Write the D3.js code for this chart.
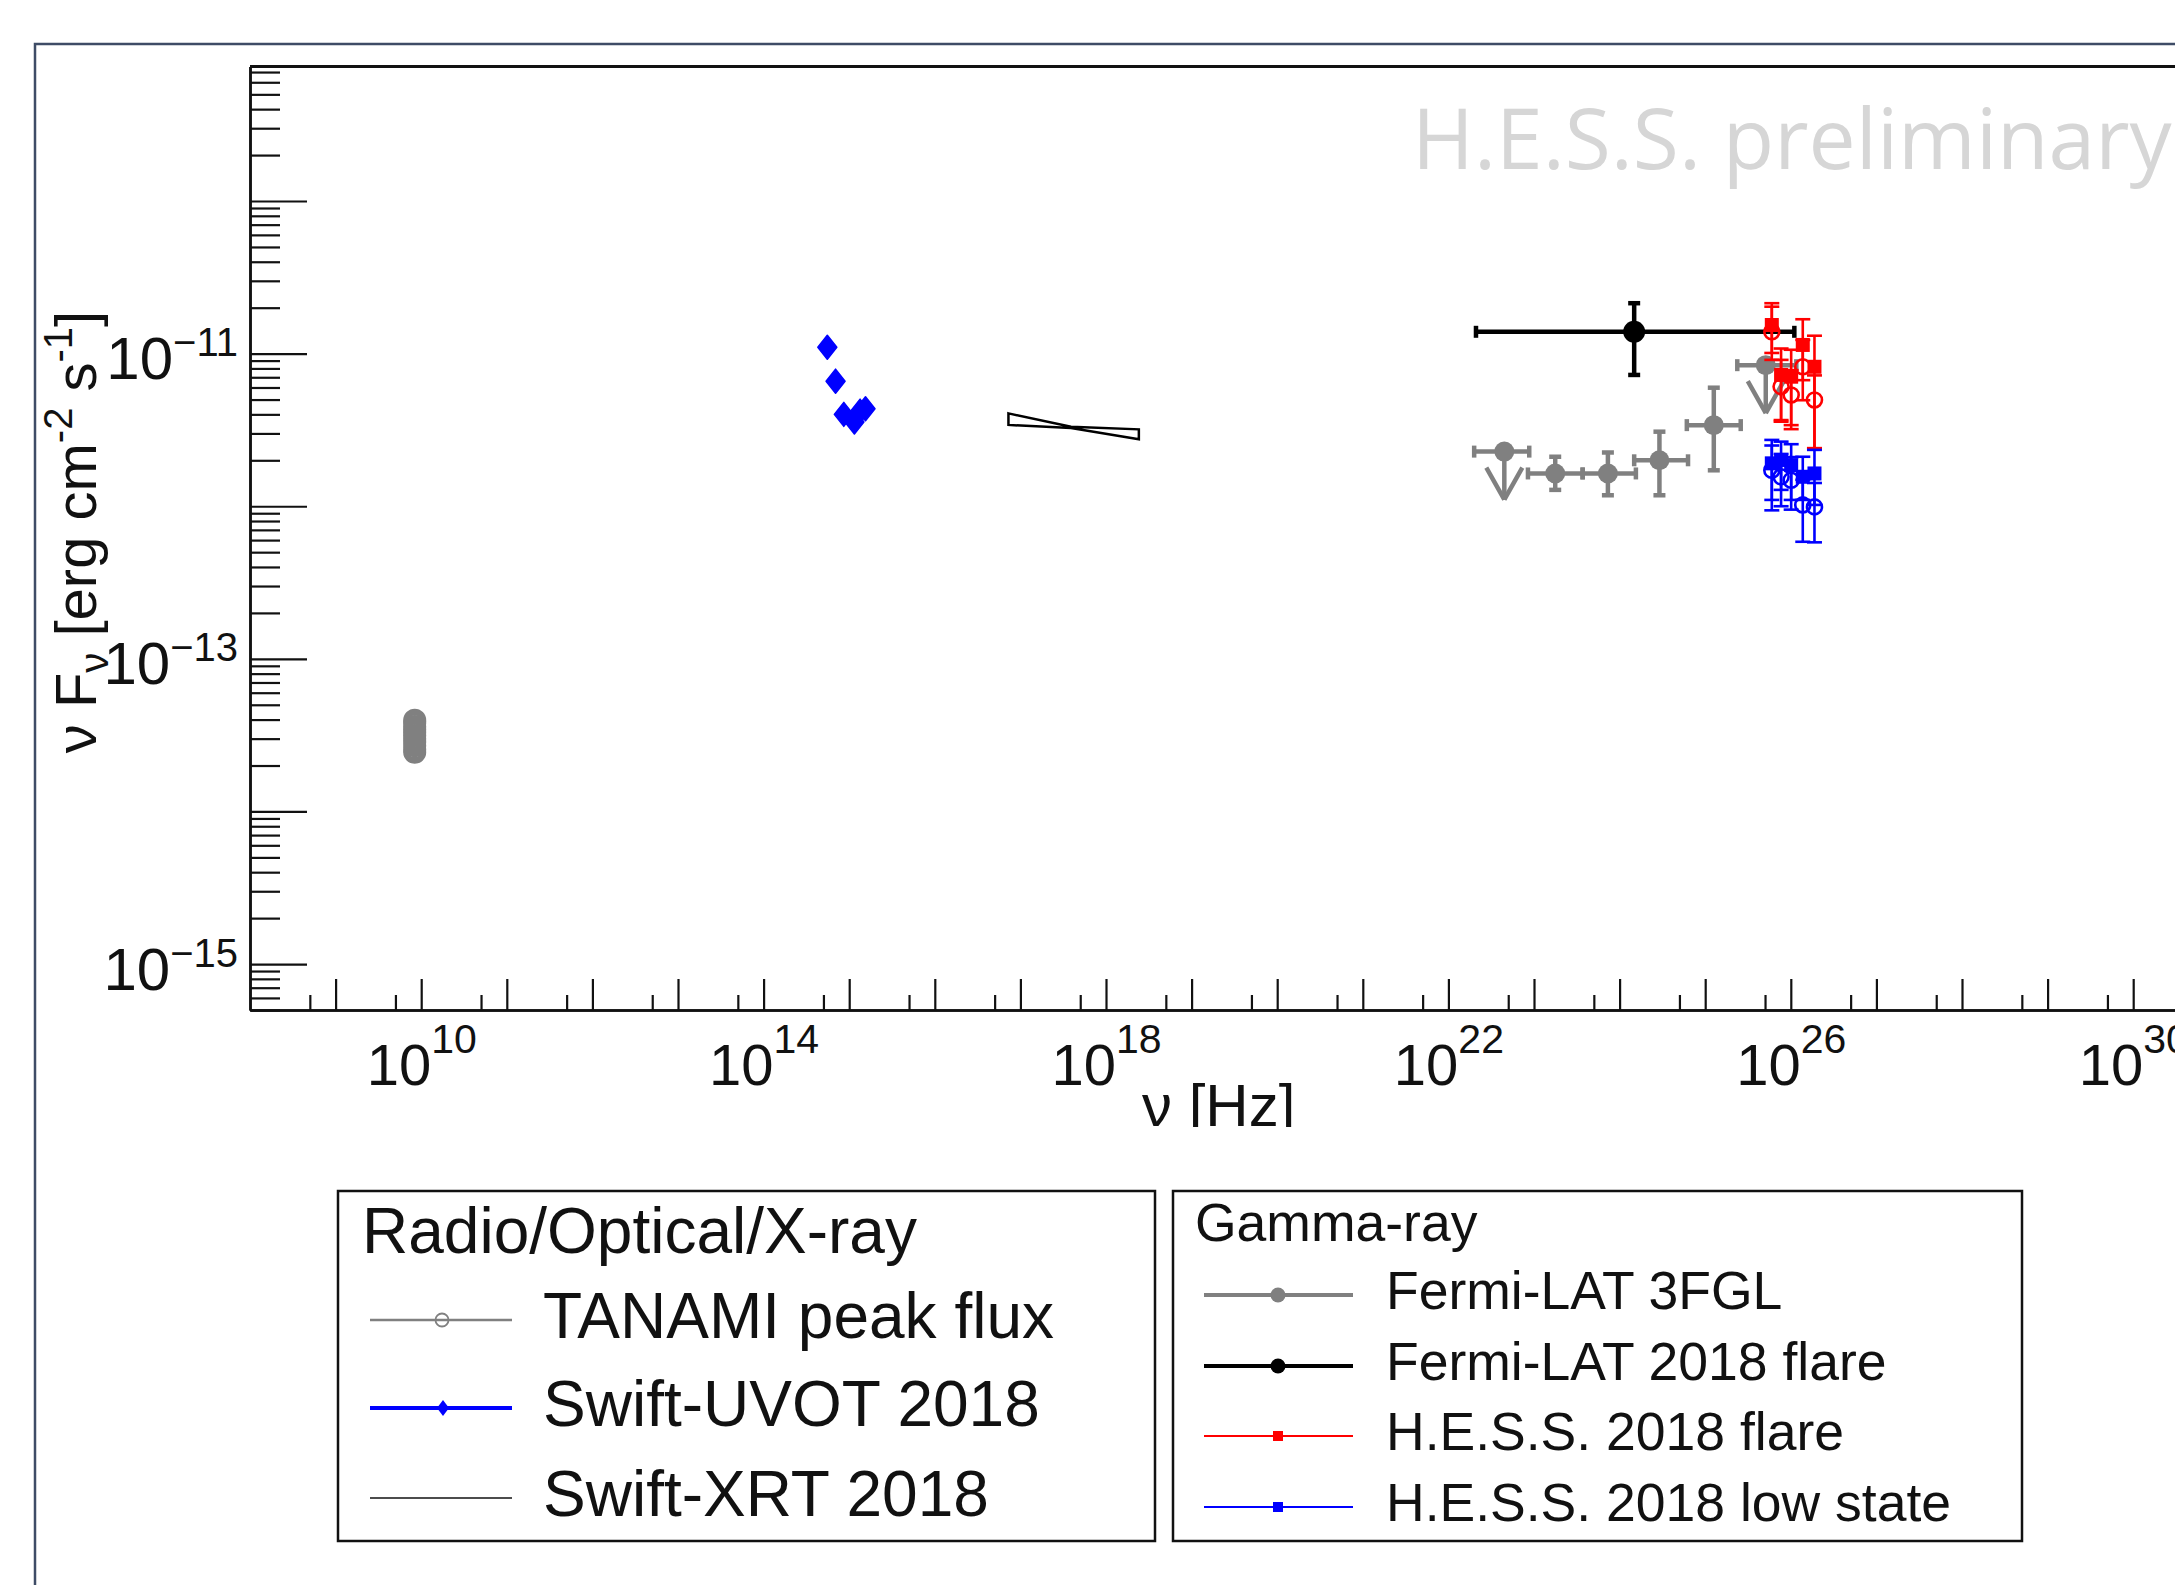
<!DOCTYPE html>
<html>
<head>
<meta charset="utf-8">
<script src="https://cdn.jsdelivr.net/npm/d3@7"></script>
<style>
  body { margin: 0; background: #fff; }
  svg { display: block; }
  text { font-family: "Liberation Sans", Arial, Helvetica, sans-serif; }
</style>
</head>
<body>
<script>
var width = 2175,
    height = 1585;

// ---- data ----
var tanamiNu = 8.4e9;
var tanamiFlux = [3.96e-14, 3.8e-14, 3.6e-14, 3.45e-14, 3.3e-14, 3.15e-14, 3.0e-14, 2.85e-14, 2.7e-14, 2.55e-14, 2.44e-14];

var uvotNu = [5.55e14, 6.93e14, 8.65e14, 1.15e15, 1.34e15, 1.55e15];
var uvotFlux = [1.1e-11, 6.6e-12, 4.0e-12, 3.56e-12, 4.2e-12, 4.35e-12];

var xrtNu = [7.25e16, 3.9e17, 2.42e18];
var xrtUpper = [4.06e-12, 3.32e-12, 3.19e-12];
var xrtLower = [3.41e-12, 3.26e-12, 2.75e-12];

var fglNu = [4.5e22, 1.77e23, 7.3e23, 2.92e24, 1.26e25, 5.1e25];
var fglNuLo = [2.0e22, 8.5e22, 3.7e23, 1.48e24, 6.1e24, 2.37e25];
var fglNuHi = [8.8e22, 3.7e23, 1.55e24, 6.3e24, 2.6e25, 1.16e26];
var fglFlux = [2.28e-12, 1.64e-12, 1.64e-12, 2.0e-12, 3.4e-12, 8.4e-12];
var fglFluxLo = [null, 1.28e-12, 1.18e-12, 1.18e-12, 1.72e-12, null];
var fglFluxHi = [null, 2.11e-12, 2.25e-12, 3.08e-12, 5.98e-12, null];
var fglUL = [true, false, false, false, false, true];

var flareNu = [1.48e24];
var flareNuLo = [2.1e22];
var flareNuHi = [1.1e26];
var flareFlux = [1.39e-11];
var flareFluxLo = [7.25e-12];
var flareFluxHi = [2.14e-11];

var hessNu = [6.0e25, 7.7e25, 1.01e26, 1.38e26, 1.89e26];
var hessFlareSq = [1.54e-11, 7.25e-12, 7.06e-12, 1.14e-11, 8.2e-12];
var hessFlareSqLo = [1.01e-11, 3.58e-12, 3.4e-12, 6.7e-12, 2.4e-12];
var hessFlareSqHi = [2.14e-11, 1.08e-11, 1.06e-11, 1.68e-11, 1.31e-11];
var hessFlareCi = [1.39e-11, 6.08e-12, 5.36e-12, 8.2e-12, 4.97e-12];
var hessFlareCiLo = [9.1e-12, 3.67e-12, 3.2e-12, 4.95e-12, 2.4e-12];
var hessFlareCiHi = [2.03e-11, 9.1e-12, 7.8e-12, 1.23e-11, 7.2e-12];
var hessLowSq = [1.91e-12, 2.01e-12, 1.86e-12, 1.56e-12, 1.64e-12];
var hessLowSqLo = [1.1e-12, 1.28e-12, 1.1e-12, 1.1e-12, 1.02e-12];
var hessLowSqHi = [2.72e-12, 2.65e-12, 2.55e-12, 2.11e-12, 2.34e-12];
var hessLowCi = [1.72e-12, 1.56e-12, 1.48e-12, 1.02e-12, 9.9e-13];
var hessLowCiLo = [9.4e-13, 1.0e-12, 9.5e-13, 5.85e-13, 5.8e-13];
var hessLowCiHi = [2.5e-12, 2.2e-12, 2.1e-12, 1.49e-12, 1.42e-12];

var xLabelExps = [10, 14, 18, 22, 26, 30];
var yLabelExps = [-15, -13, -11];

var legendRadio = ['TANAMI peak flux', 'Swift-UVOT 2018', 'Swift-XRT 2018'];
var legendGamma = ['Fermi-LAT 3FGL', 'Fermi-LAT 2018 flare', 'H.E.S.S. 2018 flare', 'H.E.S.S. 2018 low state'];

var grey = '#808080', red = '#ff0000', blue = '#0000ff';

// ---- scales ----
var x = d3.scaleLog().domain([1e8, 1e31]).range([250, 250 + 23 * 85.6]);
var y = d3.scaleLog().domain([5e-16, 7.6e-10]).range([1010, 66.6]);

var svg = d3.select('body')
    .append('svg')
    .attr('width', width)
    .attr('height', height);

// slide frame
svg.append('path')
    .attr('d', 'M35,' + height + 'V44H' + width)
    .attr('fill', 'none')
    .attr('stroke', '#3e4c66')
    .attr('stroke-width', 2.5);

// watermark
svg.append('text')
    .attr('x', 1412).attr('y', 169)
    .style('font-family', '"Open Sans", "Noto Sans", sans-serif')
    .attr('font-size', 84)
    .attr('fill', '#d6d6d6')
    .text('H.E.S.S. preliminary');

// top frame of the pad
svg.append('line')
    .attr('x1', 250).attr('x2', width)
    .attr('y1', 66.6).attr('y2', 66.6)
    .attr('stroke', '#111').attr('stroke-width', 3);

// ---- axes ----
var yMajor = [], yMinor = [];
for (let e = -16; e <= -10; e++) {
    if (Math.pow(10, e) >= 5e-16) yMajor.push(Math.pow(10, e));
    for (let m = 2; m <= 9; m++) {
        var v = m * Math.pow(10, e);
        if (v >= 5e-16 && v <= 7.6e-10) yMinor.push(v);
    }
}
var xMajor = [], xMinor = [];
for (let e = 8; e <= 30; e++) {
    if (e >= 9) xMajor.push(Math.pow(10, e));
    xMinor.push(5 * Math.pow(10, e));
}

function styleAxis(g) {
    g.attr('font-family', null).attr('font-size', null);
    g.selectAll('path.domain').attr('stroke', '#111').attr('stroke-width', 2.5);
    g.selectAll('.tick line').attr('stroke', '#111').attr('stroke-width', 2.2);
}

var gyMinor = svg.append('g').attr('transform', 'translate(250,0)')
    .call(d3.axisLeft(y).tickValues(yMinor).tickSize(-30).tickSizeOuter(0).tickFormat(''));
styleAxis(gyMinor);

var gy = svg.append('g').attr('transform', 'translate(250,0)')
    .call(d3.axisLeft(y).tickValues(yMajor).tickSize(-57).tickSizeOuter(0).tickPadding(12).tickFormat(''));
styleAxis(gy);
gy.selectAll('.tick text').each(function(d) {
    var e = Math.round(Math.log10(d));
    var t = d3.select(this).attr('dy', null).attr('y', 25)
        .attr('font-size', 60).attr('fill', '#111');
    if (yLabelExps.indexOf(e) < 0) return;
    t.append('tspan').text('10');
    t.append('tspan').attr('dy', -23).attr('font-size', 40).text('\u2212' + Math.abs(e));
});

var gxMinor = svg.append('g').attr('transform', 'translate(0,1010)')
    .call(d3.axisBottom(x).tickValues(xMinor).tickSize(-15).tickSizeOuter(0).tickFormat(''));
styleAxis(gxMinor);

var gx = svg.append('g').attr('transform', 'translate(0,1010)')
    .call(d3.axisBottom(x).tickValues(xMajor).tickSize(-31).tickSizeOuter(0).tickFormat(''));
styleAxis(gx);
gx.selectAll('.tick text').each(function(d) {
    var e = Math.round(Math.log10(d));
    var t = d3.select(this).attr('dy', null).attr('y', 75)
        .attr('font-size', 58).attr('fill', '#111');
    if (xLabelExps.indexOf(e) < 0) return;
    t.append('tspan').text('10');
    t.append('tspan').attr('dy', -32).attr('font-size', 41).text(e);
});

// axis titles
var ytitle = svg.append('text')
    .attr('transform', 'translate(96,532) rotate(-90)')
    .attr('text-anchor', 'middle')
    .attr('font-size', 58)
    .attr('fill', '#111');
ytitle.append('tspan').text('\u03bd F');
ytitle.append('tspan').attr('dy', 12).attr('font-size', 40).text('\u03bd');
ytitle.append('tspan').attr('dy', -12).text(' [erg cm');
ytitle.append('tspan').attr('dy', -24).attr('font-size', 40).text('-2');
ytitle.append('tspan').attr('dy', 24).text(' s');
ytitle.append('tspan').attr('dy', -24).attr('font-size', 40).text('-1');
ytitle.append('tspan').attr('dy', 24).text(']');

svg.append('clipPath').attr('id', 'xtclip')
    .append('rect').attr('x', 0).attr('y', 0).attr('width', width).attr('height', 1127);
svg.append('text')
    .attr('clip-path', 'url(#xtclip)')
    .attr('x', 1142).attr('y', 1126)
    .attr('font-size', 60)
    .attr('fill', '#111')
    .text('\u03bd [Hz]');

// ---- marks ----
var plot = svg.append('g');

function errSegments(nu, f, nuLo, nuHi, fLo, fHi, cap) {
    var segs = [];
    nu.forEach(function(n, i) {
        var cx = x(n), cy = y(f[i]);
        if (nuLo && nuLo[i] != null) {
            var xa = x(nuLo[i]), xb = x(nuHi[i]);
            segs.push([xa, cy, xb, cy], [xa, cy - cap, xa, cy + cap], [xb, cy - cap, xb, cy + cap]);
        }
        if (fLo && fLo[i] != null) {
            var ya = y(fLo[i]), yb = y(fHi[i]);
            segs.push([cx, ya, cx, yb], [cx - cap, ya, cx + cap, ya], [cx - cap, yb, cx + cap, yb]);
        }
    });
    return segs;
}

function drawSegs(g, segs, color, lw) {
    g.append('g').selectAll('line')
        .data(segs)
        .join('line')
        .attr('x1', d => d[0]).attr('y1', d => d[1])
        .attr('x2', d => d[2]).attr('y2', d => d[3])
        .attr('stroke', color)
        .attr('stroke-width', lw);
}

// TANAMI
plot.append('g').selectAll('circle')
    .data(tanamiFlux)
    .join('circle')
    .attr('cx', x(tanamiNu))
    .attr('cy', d => y(d))
    .attr('r', 9.5)
    .attr('fill', 'none')
    .attr('stroke', grey)
    .attr('stroke-width', 4);

// Swift-UVOT
plot.append('g').selectAll('path')
    .data(uvotNu)
    .join('path')
    .attr('transform', (d, i) => 'translate(' + x(d) + ',' + y(uvotFlux[i]) + ')')
    .attr('d', 'M0,-12L9.5,0L0,12L-9.5,0Z')
    .attr('fill', blue)
    .attr('stroke', blue)
    .attr('stroke-width', 1.5)
    .attr('stroke-linejoin', 'round');

// Swift-XRT bowtie
var xrtPts = xrtNu.map((n, i) => [x(n), y(xrtUpper[i])])
    .concat(xrtNu.map((n, i) => [x(n), y(xrtLower[i])]).reverse());
plot.append('path')
    .attr('d', d3.line()(xrtPts) + 'Z')
    .attr('fill', 'none')
    .attr('stroke', '#000')
    .attr('stroke-width', 2.5);

// Fermi-LAT 3FGL
drawSegs(plot, errSegments(fglNu, fglFlux, fglNuLo, fglNuHi, fglFluxLo, fglFluxHi, 6), grey, 4.5);
var ulSegs = [];
fglNu.forEach(function(n, i) {
    if (!fglUL[i]) return;
    var cx = x(n), cy = y(fglFlux[i]);
    ulSegs.push([cx, cy, cx, cy + 48], [cx - 18, cy + 16, cx, cy + 48], [cx + 18, cy + 16, cx, cy + 48]);
});
drawSegs(plot, ulSegs, grey, 4.5);
plot.append('g').selectAll('circle')
    .data(fglNu)
    .join('circle')
    .attr('cx', d => x(d))
    .attr('cy', (d, i) => y(fglFlux[i]))
    .attr('r', 10)
    .attr('fill', grey);

// Fermi-LAT 2018 flare
drawSegs(plot, errSegments(flareNu, flareFlux, flareNuLo, flareNuHi, flareFluxLo, flareFluxHi, 6), '#000', 4.5);
plot.append('g').selectAll('circle')
    .data(flareNu)
    .join('circle')
    .attr('cx', d => x(d))
    .attr('cy', (d, i) => y(flareFlux[i]))
    .attr('r', 11)
    .attr('fill', '#000');

// H.E.S.S.
function drawHess(color, sq, sqLo, sqHi, ci, ciLo, ciHi) {
    var g = plot.append('g');
    drawSegs(g, errSegments(hessNu, sq, null, null, sqLo, sqHi, 7.5), color, 2.6);
    drawSegs(g, errSegments(hessNu, ci, null, null, ciLo, ciHi, 7.5), color, 2.6);
    g.append('g').selectAll('circle')
        .data(hessNu)
        .join('circle')
        .attr('cx', d => x(d))
        .attr('cy', (d, i) => y(ci[i]))
        .attr('r', 7.5)
        .attr('fill', 'none')
        .attr('stroke', color)
        .attr('stroke-width', 2.6);
    g.append('g').selectAll('rect')
        .data(hessNu)
        .join('rect')
        .attr('x', d => x(d) - 7)
        .attr('y', (d, i) => y(sq[i]) - 7)
        .attr('width', 14)
        .attr('height', 14)
        .attr('fill', color);
}
drawHess(red, hessFlareSq, hessFlareSqLo, hessFlareSqHi, hessFlareCi, hessFlareCiLo, hessFlareCiHi);
drawHess(blue, hessLowSq, hessLowSqLo, hessLowSqHi, hessLowCi, hessLowCiLo, hessLowCiHi);

// ---- legends ----
var leg1 = svg.append('g');
leg1.append('rect')
    .attr('x', 338).attr('y', 1191).attr('width', 817).attr('height', 350)
    .attr('fill', '#fff').attr('stroke', '#111').attr('stroke-width', 2.5);
leg1.append('text').attr('x', 362).attr('y', 1253).attr('font-size', 64).attr('fill', '#111')
    .text('Radio/Optical/X-ray');
var l1y = [1320, 1408, 1498];
var l1 = leg1.selectAll('g.entry').data(legendRadio).join('g').attr('class', 'entry')
    .attr('transform', (d, i) => 'translate(0,' + l1y[i] + ')');
l1.append('text').attr('x', 543).attr('y', 18).attr('font-size', 64).attr('fill', '#111').text(d => d);
l1.append('line').attr('x1', 370).attr('x2', 512)
    .attr('stroke', (d, i) => [grey, blue, '#111'][i])
    .attr('stroke-width', (d, i) => [2.7, 4, 1.6][i]);
l1.filter((d, i) => i === 0).append('circle')
    .attr('cx', 442).attr('r', 6.5).attr('fill', 'none').attr('stroke', grey).attr('stroke-width', 1.8);
l1.filter((d, i) => i === 1).append('path')
    .attr('transform', 'translate(443,0)')
    .attr('d', 'M0,-8L6,0L0,8L-6,0Z').attr('fill', blue);

var leg2 = svg.append('g');
leg2.append('rect')
    .attr('x', 1173).attr('y', 1191).attr('width', 849).attr('height', 350)
    .attr('fill', '#fff').attr('stroke', '#111').attr('stroke-width', 2.5);
leg2.append('text').attr('x', 1195).attr('y', 1241).attr('font-size', 53.5).attr('fill', '#111')
    .text('Gamma-ray');
var l2y = [1295, 1366, 1436, 1507];
var l2col = [grey, '#000', red, blue];
var l2 = leg2.selectAll('g.entry').data(legendGamma).join('g').attr('class', 'entry')
    .attr('transform', (d, i) => 'translate(0,' + l2y[i] + ')');
l2.append('text').attr('x', 1386).attr('y', 14).attr('font-size', 53.5).attr('fill', '#111').text(d => d);
l2.append('line').attr('x1', 1204).attr('x2', 1353)
    .attr('stroke', (d, i) => l2col[i])
    .attr('stroke-width', (d, i) => i < 2 ? 4 : 2);
l2.filter((d, i) => i < 2).append('circle')
    .attr('cx', 1278).attr('r', 7.5).attr('fill', (d, i) => l2col[i]);
l2.filter((d, i) => i >= 2).append('rect')
    .attr('x', 1273).attr('y', -5).attr('width', 10).attr('height', 10)
    .attr('fill', (d, i) => l2col[i + 2]);
</script>
</body>
</html>
